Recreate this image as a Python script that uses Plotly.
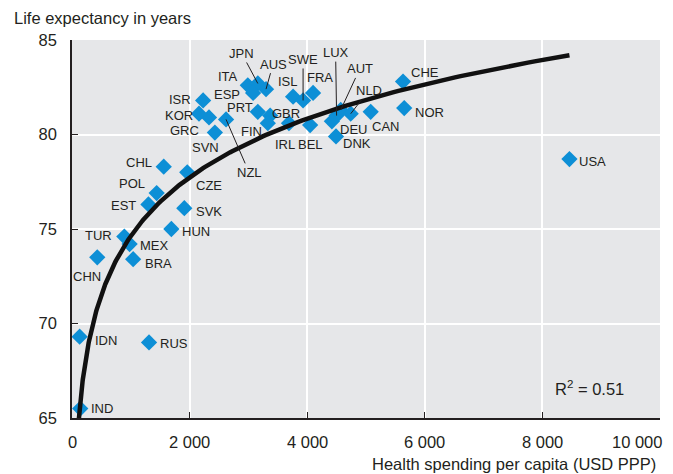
import numpy as np
import plotly.graph_objects as go

countries = ["IND", "IDN", "RUS", "CHN", "TUR", "MEX", "BRA", "EST", "POL", "CHL",
             "HUN", "SVK", "CZE", "SVN", "ISR", "KOR", "GRC", "NZL", "ITA", "JPN",
             "ESP", "AUS", "PRT", "GBR", "FIN", "IRL", "BEL", "ISL", "SWE", "FRA",
             "LUX", "AUT", "DEU", "NLD", "DNK", "CAN", "CHE", "NOR", "USA"]
spending = [140, 130, 1310, 430, 890, 980, 1040, 1300, 1440, 1560,
            1690, 1910, 1960, 2330, 2230, 2160, 2430, 2620, 2990, 3160,
            3080, 3300, 3160, 3370, 3330, 3690, 4050, 3760, 3930, 4100,
            4500, 4570, 4420, 4740, 4490, 5080, 5630, 5650, 8460]
life_exp = [65.5, 69.3, 69.0, 73.5, 74.6, 74.2, 73.4, 76.3, 76.9, 78.3,
            75.0, 76.1, 78.0, 80.9, 81.8, 81.1, 80.1, 80.8, 82.6, 82.7,
            82.2, 82.4, 81.2, 81.0, 80.6, 80.6, 80.5, 82.0, 81.8, 82.2,
            81.0, 81.3, 80.7, 81.1, 79.9, 81.2, 82.8, 81.4, 78.7]

# logarithmic trend line as drawn in the chart: y = intercept + slope * ln(x)
trend_intercept = 43.68
trend_slope = 4.48
trend_x_start = 110

x_tick_vals = [0, 2000, 4000, 6000, 8000, 10000]
x_tick_text = ["0", "2 000", "4 000", "6 000", "8 000", "10 000"]
y_tick_vals = [65, 70, 75, 80, 85]
y_tick_text = ["65", "70", "75", "80", "85"]

y_title = "Life expectancy in years"
x_title = "Health spending per capita (USD PPP)"
r2_text = "R<sup>2</sup> = 0.51"

# ---- layout / styling (pixel offsets of labels from their markers; +dy = down)
label_offsets = {
    "IND": (22, 0), "IDN": (26, 4), "RUS": (25, 1), "CHN": (-10, 19),
    "TUR": (-26, -1), "MEX": (25, 1), "BRA": (25, 4), "EST": (-25, 1),
    "POL": (-25, -10), "CHL": (-25, -4), "HUN": (25, 2), "SVK": (25, 3),
    "CZE": (22, 13), "SVN": (-4, 30), "ISR": (-23, -1), "KOR": (-20, 2),
    "GRC": (-30, -2), "ITA": (-20, -9), "ESP": (-26, 2), "PRT": (-18, -4),
    "GBR": (16, -2), "FIN": (-16, 8), "IRL": (-4, 21), "BEL": (0, 19),
    "ISL": (-5, -15), "FRA": (7, -15), "DEU": (22, 8), "DNK": (21, 7),
    "CAN": (15, 15), "CHE": (22, -9), "NOR": (25, 4), "USA": (23, 2),
}
leader_offsets = {
    "JPN": (-16, -30), "AUS": (7, -25), "SWE": (0, -41), "LUX": (-1, -63),
    "AUT": (19, -41), "NLD": (18, -23), "NZL": (23, 53),
}

FONT = "Liberation Sans, Arial, sans-serif"
TXT = "#231f20"
BLUE = "#0d8fd6"
BG = "#e6e7e9"

x_line = np.geomspace(trend_x_start, max(spending), 300)
y_line = trend_intercept + trend_slope * np.log(x_line)

fig = go.Figure()
fig.add_trace(go.Scatter(
    x=spending, y=life_exp, mode="markers",
    marker=dict(symbol="diamond", size=12.5, color=BLUE, line=dict(width=0)),
    hoverinfo="text", text=countries, showlegend=False,
))
fig.add_trace(go.Scatter(
    x=x_line, y=y_line, mode="lines",
    line=dict(color="#111111", width=4.5), hoverinfo="skip", showlegend=False,
))

LABEL_FONT = dict(family=FONT, size=13, color=TXT)
ann = []
for c, xv, yv in zip(countries, spending, life_exp):
    if c in label_offsets:
        dx, dy = label_offsets[c]
        ann.append(dict(x=xv, y=yv, xref="x", yref="y", text=c, showarrow=False,
                        xshift=dx, yshift=-dy, font=LABEL_FONT))
    elif c in leader_offsets:
        dx, dy = leader_offsets[c]
        ann.append(dict(x=xv, y=yv, xref="x", yref="y", text=c, showarrow=True,
                        ax=dx, ay=dy, arrowhead=0, arrowwidth=1,
                        arrowcolor=TXT, standoff=0, font=LABEL_FONT))

for v, t in zip(x_tick_vals, x_tick_text):
    last = v == x_tick_vals[-1]
    ann.append(dict(x=v, y=0, xref="x", yref="paper", text=t, showarrow=False,
                    xanchor="right" if last else "center",
                    xshift=4 if last else 0,
                    yanchor="top", yshift=-13,
                    font=dict(family=FONT, size=16.5, color=TXT)))

ann.append(dict(x=-0.102, y=1.058, xref="paper", yref="paper", text=y_title,
                showarrow=False, xanchor="left", yanchor="middle",
                font=dict(family=FONT, size=16.5, color=TXT)))
ann.append(dict(x=0.997, y=-0.122, xref="paper", yref="paper", text=x_title,
                showarrow=False, xanchor="right", yanchor="middle",
                font=dict(family=FONT, size=16.5, color=TXT)))
ann.append(dict(x=8800, y=66.6, xref="x", yref="y", text=r2_text,
                showarrow=False, font=dict(family=FONT, size=16.5, color=TXT)))

# page body has an 8px margin: figure spans 8..673 x 8..474
fig.update_layout(
    width=665, height=466,
    margin=dict(l=64, r=13, t=32, b=56),
    paper_bgcolor="white", plot_bgcolor=BG,
    font=dict(family=FONT, size=16, color=TXT),
    annotations=ann,
    xaxis=dict(range=[0, 10000], tickvals=x_tick_vals, showticklabels=False,
               showgrid=True, gridcolor="white", gridwidth=2, zeroline=False,
               showline=True, linecolor=TXT, linewidth=1.5,
               ticks="inside", ticklen=6, tickcolor=TXT, tickwidth=1),
    yaxis=dict(range=[65, 85], tickvals=y_tick_vals, ticktext=y_tick_text,
               showgrid=True, gridcolor="white", gridwidth=2, zeroline=False,
               showline=True, linecolor=TXT, linewidth=1.5,
               ticks="inside", ticklen=6, tickcolor=TXT, tickwidth=1,
               ticklabelstandoff=10, tickfont=dict(family=FONT, size=16.5, color=TXT)),
)

fig.write_html("out.html")
